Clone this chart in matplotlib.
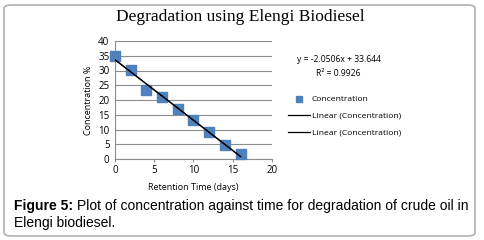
import numpy as np
import matplotlib
matplotlib.use('Agg')
from matplotlib import pyplot as plt
from matplotlib.patches import FancyBboxPatch

# data
days = [0, 2, 4, 6, 8, 10, 12, 14, 16]
concentration = [35.0, 30.1, 23.5, 21.1, 17.0, 13.2, 9.3, 4.7, 1.8]
slope = -2.0506
intercept = 33.644
r2 = 0.9926
x_ticks = [0, 5, 10, 15, 20]
y_ticks = [0, 5, 10, 15, 20, 25, 30, 35, 40]

W, H = 485, 240
fig = plt.figure(figsize=(W / 100, H / 100), dpi=100)

# rounded frame around chart + caption
frame = FancyBboxPatch((4 / W, 4 / H), 471 / W, 231 / H,
                       boxstyle='round,pad=0,rounding_size=0.015',
                       transform=fig.transFigure, facecolor='none',
                       edgecolor='#b0b0b0', linewidth=1.2, zorder=-1)
fig.patches.append(frame)

ax = fig.add_axes([115 / W, 1 - 159 / H, 157 / W, 118 / H])
ax.set_xlim(0, 20)
ax.set_ylim(0, 40)
ax.set_xticks(x_ticks)
ax.set_yticks(y_ticks)
ax.grid(axis='y', color='#8c8c8c', linewidth=0.8)
ax.set_axisbelow(True)
for s in ['top', 'right']:
    ax.spines[s].set_visible(False)
for s in ['left', 'bottom']:
    ax.spines[s].set_color('#8c8c8c')
ax.tick_params(axis='both', labelsize=7, length=2, color='#8c8c8c', pad=2)
ax.tick_params(axis='y', length=0, pad=4)
for lab in ax.get_xticklabels() + ax.get_yticklabels():
    lab.set_family('Open Sans')

sc = ax.scatter(days, concentration, marker='s', s=42, color='#4f81bd',
                zorder=3, label='Concentration', clip_on=False)
xl = np.array([days[0], days[-1]])
l1, = ax.plot(xl, slope * xl + intercept, color='black', linewidth=0.9,
              zorder=4, label='Linear (Concentration)')
l2, = ax.plot(xl, slope * xl + intercept, color='black', linewidth=0.9,
              zorder=4, label='Linear (Concentration)')

ax.set_xlabel('Retention Time (days)', fontsize=6.5, family='Open Sans', labelpad=5)
ax.set_ylabel('Concentration %', fontsize=6.5, family='Open Sans', labelpad=4)

fig.text(240 / W, 1 - 17 / H, 'Degradation using Elengi Biodiesel',
         ha='center', va='center', fontsize=12.5, family='Liberation Serif')

fig.text(297 / W, 1 - 60 / H, 'y = -2.0506x + 33.644',
         ha='left', va='center', fontsize=6.2, family='Open Sans')
fig.text(316 / W, 1 - 73 / H, 'R² = ' + str(r2),
         ha='left', va='center', fontsize=6.2, family='Open Sans')

leg = fig.legend(handles=[sc, l1, l2], loc='upper left',
                 bbox_to_anchor=(288 / W, 1 - 95 / H), frameon=False,
                 prop={'family': 'Open Sans', 'size': 6.1},
                 handlelength=2.6, handletextpad=0.2, labelspacing=1.05,
                 markerscale=0.75, borderaxespad=0, borderpad=0)

fig.text(14 / W, 1 - 206 / H, 'Figure 5:', ha='left', va='center',
         fontsize=10, fontweight='bold', family='Liberation Sans')
fig.text(77 / W, 1 - 206 / H,
         'Plot of concentration against time for degradation of crude oil in',
         ha='left', va='center', fontsize=10, family='Liberation Sans')
fig.text(14 / W, 1 - 223 / H, 'Elengi biodiesel.', ha='left', va='center',
         fontsize=10, family='Liberation Sans')

fig.savefig('out.png', dpi=100)
